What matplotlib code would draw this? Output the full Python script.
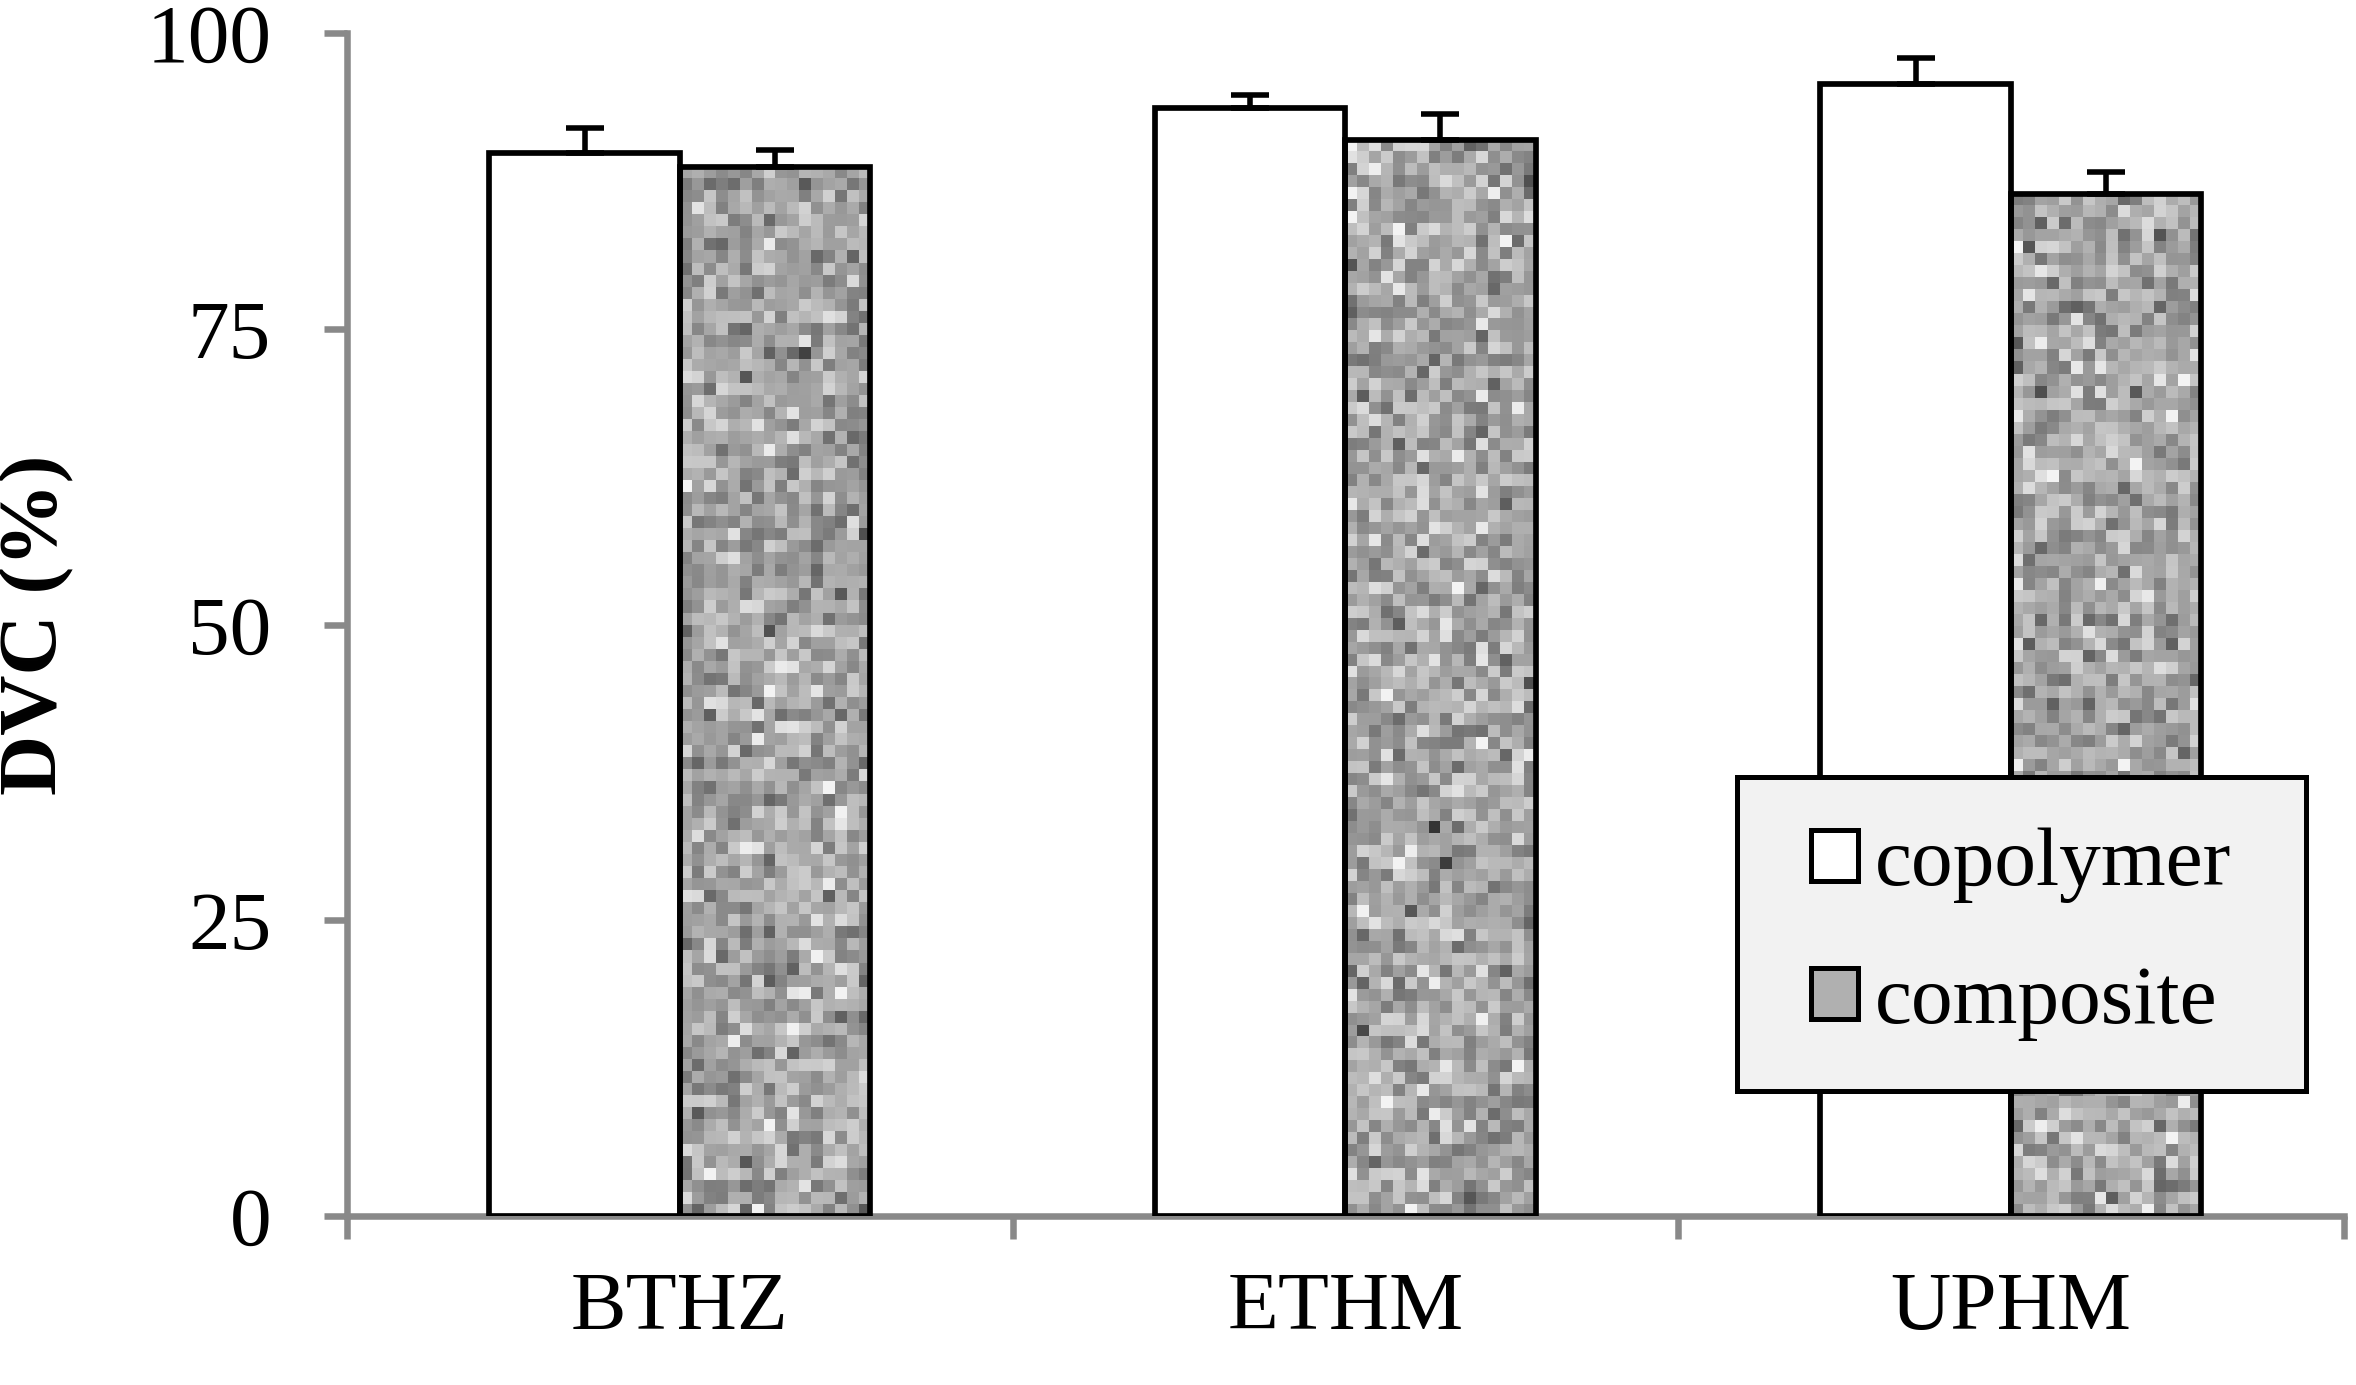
import numpy as np
import matplotlib
matplotlib.use("Agg")
from matplotlib import pyplot as plt
from matplotlib.patches import Rectangle, Patch

plt.rcParams['font.family'] = ['Liberation Serif', 'DejaVu Serif']
plt.rcParams['font.size'] = 30

# data
categories = ['BTHZ', 'ETHM', 'UPHM']
series = ['copolymer', 'composite']
copolymer = [89.9, 93.7, 95.7]
copolymer_err = [2.1, 1.1, 2.2]
composite = [88.7, 91.0, 86.4]
composite_err = [1.4, 2.2, 1.9]
yticks = [0, 25, 50, 75, 100]

axis_grey = '#898989'
w = 0.286

fig = plt.figure(figsize=(11.78, 6.925), dpi=200)
ax = fig.add_axes([0.1473, 0.122, 0.8474, 0.8541])

x = np.arange(len(categories))

# copolymer: plain white bars
b1 = ax.bar(x - w / 2, copolymer, w, facecolor='white', edgecolor='black',
            linewidth=2.05, zorder=3)

# composite: noisy grey texture clipped to the bar outline
b2 = ax.bar(x + w / 2, composite, w, facecolor='none', edgecolor='black',
            linewidth=2.05, zorder=3)
rng = np.random.default_rng(7)
for rect in b2:
    x0, y0 = rect.get_x(), rect.get_y()
    bw, bh = rect.get_width(), rect.get_height()
    nrow = int(round(bh * 11.83 / 12))
    tex = np.clip(rng.normal(0.65, 0.12, (nrow, 16)), 0.15, 0.95)
    im = ax.imshow(tex, cmap='gray', vmin=0, vmax=1, aspect='auto',
                   interpolation='nearest', extent=(x0, x0 + bw, y0, y0 + bh),
                   zorder=2)
    im.set_clip_path(rect)

# upper error bars only
ax.errorbar(x - w / 2, copolymer, yerr=[np.zeros(3), copolymer_err], fmt='none',
            ecolor='black', elinewidth=2.0, capsize=7, capthick=2.0, zorder=4)
ax.errorbar(x + w / 2, composite, yerr=[np.zeros(3), composite_err], fmt='none',
            ecolor='black', elinewidth=2.0, capsize=7, capthick=2.0, zorder=4)

ax.set_xlim(-0.5, 2.5)
ax.set_ylim(0, 100)

# axes styling
for s in ['top', 'right']:
    ax.spines[s].set_visible(False)
for s in ['left', 'bottom']:
    ax.spines[s].set_color(axis_grey)
    ax.spines[s].set_linewidth(2.35)

ax.set_yticks(yticks)
ax.tick_params(axis='y', direction='out', length=8.3, width=2.35,
               color=axis_grey, pad=19)

ax.set_xticks([-0.5, 0.5, 1.5, 2.5])
ax.set_xticklabels([])
ax.set_xticks(x, minor=True)
ax.set_xticklabels(categories, minor=True)
ax.tick_params(axis='x', which='major', direction='out', length=8.3,
               width=2.35, color=axis_grey)
ax.tick_params(axis='x', which='minor', length=0, pad=20)

ax.set_ylabel('DVC (%)', fontweight='bold', labelpad=26)

# legend box
lx0, lx1, ly0, ly1 = 0.696, 0.981, 0.106, 0.371
ax.add_patch(Rectangle((lx0, ly0), lx1 - lx0, ly1 - ly0, transform=ax.transAxes,
                       facecolor='#f2f2f2', edgecolor='black', linewidth=1.8,
                       zorder=5, clip_on=False))
handles = [Patch(facecolor='white', edgecolor='black', linewidth=1.8),
           Patch(facecolor='#b0b0b0', edgecolor='black', linewidth=1.8)]
leg = ax.legend(handles, series, loc='center',
                bbox_to_anchor=((lx0 + lx1) / 2, (ly0 + ly1) / 2),
                frameon=False, handlelength=0.57, handleheight=0.57,
                handletextpad=0.2, labelspacing=0.75, borderpad=0)
leg.set_zorder(6)

fig.savefig('out.png', dpi=200)
